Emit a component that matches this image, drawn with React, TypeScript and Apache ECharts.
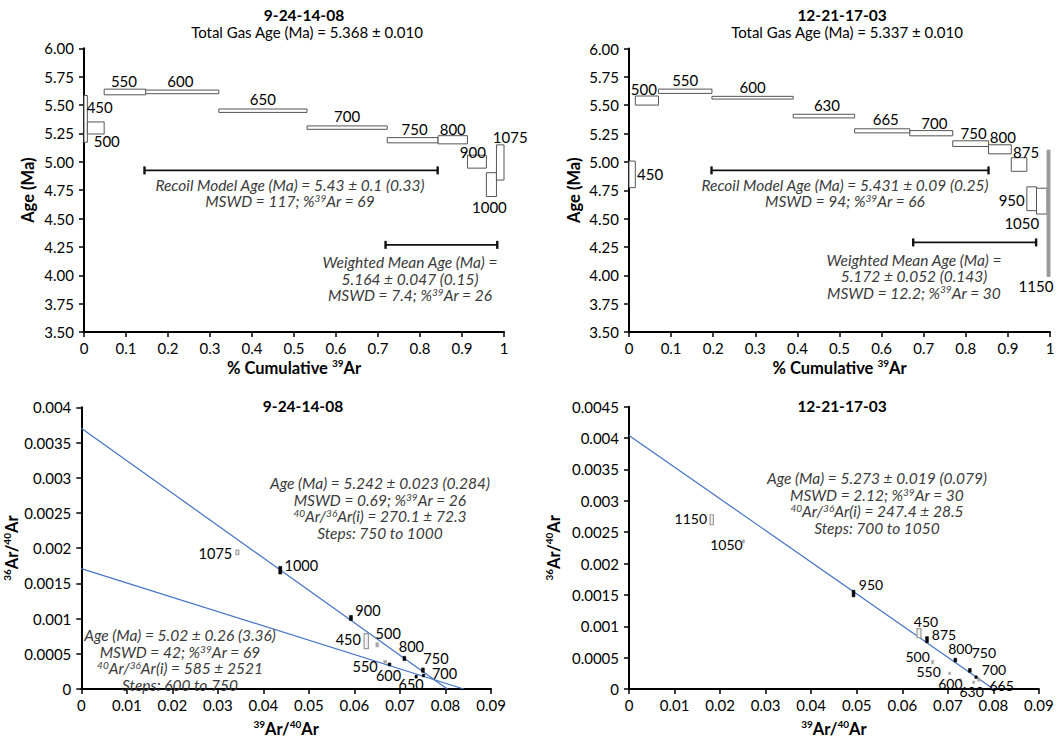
import { useEffect, useRef } from 'react';
import * as echarts from 'echarts';

const FONT = 'Lato, "Open Sans", sans-serif';

// ---------- 9-24-14-08 : age spectrum ----------
const s1Steps = ['450', '500', '550', '600', '650', '700', '750', '800', '900', '1000', '1075'];
const s1CumAr39 = [0, 0.008, 0.048, 0.147, 0.321, 0.531, 0.722, 0.843, 0.913, 0.958, 0.982, 1.0];
const s1Age = [5.378, 5.298, 5.615, 5.616, 5.45, 5.301, 5.19, 5.194, 5.001, 4.799, 4.994];
const s1Err = [0.206, 0.053, 0.025, 0.016, 0.015, 0.015, 0.023, 0.036, 0.057, 0.105, 0.155];
const s1RecoilBar = [0.144, 0.842, 4.924];
const s1WeightedBar = [0.718, 0.984, 4.268];

// ---------- 12-21-17-03 : age spectrum ----------
const s2Steps = ['450', '500', '550', '600', '630', '665', '700', '750', '800', '875', '950', '1050', '1150'];
const s2CumAr39 = [0, 0.015, 0.07, 0.197, 0.39, 0.536, 0.667, 0.769, 0.854, 0.908, 0.945, 0.968, 0.993, 1.0];
const s2Age = [4.89, 5.541, 5.623, 5.566, 5.404, 5.274, 5.253, 5.161, 5.111, 4.977, 4.675, 4.654, 4.547];
const s2Err = [0.117, 0.04, 0.019, 0.012, 0.016, 0.018, 0.023, 0.025, 0.04, 0.06, 0.105, 0.114, 0.557];
const s2Solid = ['1150'];
const s2RecoilBar = [0.196, 0.854, 4.925];
const s2WeightedBar = [0.675, 0.967, 4.29];

// ---------- 9-24-14-08 : inverse isochron ----------
const i1Steps = ['450', '500', '550', '600', '650', '700', '750', '800', '900', '1000', '1075'];
const i1Ar39Ar40 = [0.0626, 0.065, 0.06675, 0.0677, 0.07356, 0.07517, 0.07505, 0.07097, 0.05923, 0.04371, 0.03429];
const i1Ar36Ar40 = [0.00068, 0.000627, 0.000387, 0.000349, 0.000175, 0.000193, 0.000268, 0.000433, 0.001008, 0.001687, 0.001939];
const i1XErr = [0.00047, 0.0003, 0.0003, 0.0003, 0.00025, 0.00025, 0.0003, 0.0003, 0.00033, 0.00033, 0.0003];
const i1YErr = [0.000106, 0.00003, 0.00002, 0.00002, 0.00002, 0.00002, 0.00003, 0.00003, 0.000035, 0.000054, 0.000033];
const i1Fitted = ['600', '650', '700', '750', '800', '900', '1000'];
const i1Hollow = ['450', '1075'];
const i1TrappedA = 270.1; // 40Ar/36Ar(i), steps 750 to 1000
const i1Ar39InterceptA = 0.0804;
const i1TrappedB = 585; // 40Ar/36Ar(i), steps 600 to 750
const i1Ar39InterceptB = 0.084;

// ---------- 12-21-17-03 : inverse isochron ----------
const i2Steps = ['450', '500', '550', '600', '630', '665', '700', '750', '800', '875', '950', '1050', '1150'];
const i2Ar39Ar40 = [0.06367, 0.06667, 0.0704, 0.07275, 0.07567, 0.07677, 0.0762, 0.07484, 0.07165, 0.06543, 0.0493, 0.02513, 0.01817];
const i2Ar36Ar40 = [0.000889, 0.000429, 0.00025, 0.000142, 0.000107, 0.000154, 0.000189, 0.000297, 0.000461, 0.000786, 0.001522, 0.002353, 0.002698];
const i2XErr = [0.00044, 0.0002, 0.00015, 0.00015, 0.00015, 0.00015, 0.00025, 0.0003, 0.0003, 0.0003, 0.0003, 0.00015, 0.00036];
const i2YErr = [0.000072, 0.00003, 0.00002, 0.00002, 0.00002, 0.00003, 0.00002, 0.00003, 0.00003, 0.000048, 0.000053, 0.000025, 0.00008];
const i2Fitted = ['700', '750', '800', '875', '950'];
const i2Hollow = ['450', '1150'];
const i2Trapped = 247.4;
const i2Ar39Intercept = 0.08;

// ---------- text blocks ('^..^' marks a superscript) ----------
const title1 = '9-24-14-08';
const title2 = '12-21-17-03';
const total1 = 'Total Gas Age (Ma) = 5.368 ± 0.010';
const total2 = 'Total Gas Age (Ma) = 5.337 ± 0.010';
const recoil1 = ['Recoil Model Age (Ma) = 5.43 ± 0.1 (0.33)', 'MSWD = 117; %^39^Ar = 69'];
const weighted1 = ['Weighted Mean Age (Ma) =', '5.164 ± 0.047 (0.15)', 'MSWD = 7.4; %^39^Ar = 26'];
const recoil2 = ['Recoil Model Age (Ma) = 5.431 ± 0.09 (0.25)', 'MSWD = 94; %^39^Ar = 66'];
const weighted2 = ['Weighted Mean Age (Ma) =', '5.172 ± 0.052 (0.143)', 'MSWD = 12.2; %^39^Ar = 30'];
const iso1A = ['Age (Ma) = 5.242 ± 0.023 (0.284)', 'MSWD = 0.69; %^39^Ar = 26', '^40^Ar/^36^Ar(i) = 270.1 ± 72.3', 'Steps: 750 to 1000'];
const iso1B = ['Age (Ma) = 5.02 ± 0.26 (3.36)', 'MSWD = 42; %^39^Ar = 69', '^40^Ar/^36^Ar(i) = 585 ± 2521', 'Steps: 600 to 750'];
const iso2A = ['Age (Ma) = 5.273 ± 0.019 (0.079)', 'MSWD = 2.12; %^39^Ar = 30', '^40^Ar/^36^Ar(i) = 247.4 ± 28.5', 'Steps: 700 to 1050'];

// ---------- label placement (pixel offsets from each mark's centre) ----------
const s1LabelOffset = [[14, -12], [11, 13], [-1, -11], [-2, -11], [0, -12], [0, -12], [2, -11], [0, -11], [-4, -10], [-2, 22], [10, -25]];
const s2LabelOffset = [[18, 0], [-3, -11.5], [0, -11.5], [0, -11], [3, -11.5], [3.5, -12], [3, -10.7], [3, -11], [3, -12.5], [7, -13], [-20, 1], [-20, 21.5], [-12.5, 72.7]];
const i1LabelOffset = [[-18, -1.5], [11, -11], [-20, 5], [-1, 11], [-5, 7.5], [21, -2], [13, -11.5], [7, -12], [17, -8], [21, -4.5], [-22, 1]];
const i2LabelOffset = [[7, -11.5], [-15, -6], [-21, -2], [-10, 3.5], [-2, 9.5], [23, 6], [18, -7.5], [14, -17.5], [5, -11.5], [17, -5], [17.5, -9], [-17, 3], [-21, -1]];

function richText(lines: string[], base: string, sup: string) {
  return lines
    .map((l) =>
      l
        .split('^')
        .map((part, k) => (part ? `{${k % 2 ? sup : base}|${part}}` : ''))
        .join('')
    )
    .join('\n');
}

const gRich: any = {
  i: { fontFamily: FONT, fontSize: 15.5, fontStyle: 'italic', fill: '#3a3a3a', lineHeight: 16.5 },
  is: { fontFamily: FONT, fontSize: 10, fontStyle: 'italic', fill: '#3a3a3a', lineHeight: 10, verticalAlign: 'top' },
  r: { fontFamily: FONT, fontSize: 15, fill: '#000', lineHeight: 17 },
  b: { fontFamily: FONT, fontSize: 15.5, fontWeight: 'bold', fill: '#000', lineHeight: 17 },
};

function textEl(x: number, y: number, lines: string[], base: string, sup = 'is') {
  return {
    type: 'text',
    x,
    y,
    z: 100,
    silent: true,
    style: {
      text: richText(lines, base, sup),
      rich: gRich,
      align: 'center',
      verticalAlign: 'middle',
      textAlign: 'center',
      textVerticalAlign: 'middle',
    },
  };
}

const nameRich: any = {
  b: { fontFamily: FONT, fontSize: 16.5, fontWeight: 'bold', color: '#000', lineHeight: 19 },
  s: { fontFamily: FONT, fontSize: 10, fontWeight: 'bold', color: '#000', lineHeight: 10, verticalAlign: 'top' },
};

function valueAxis(grid: number, min: number, max: number, interval: number, fmt: (v: number) => string, name: string, nameGap: number, vertical: boolean) {
  return {
    type: 'value',
    gridIndex: grid,
    min,
    max,
    interval,
    name,
    nameLocation: 'middle',
    nameGap,
    nameRotate: vertical ? 90 : 0,
    nameTextStyle: { rich: nameRich },
    axisLine: { show: true, onZero: false, lineStyle: { color: '#000', width: 2 } },
    axisTick: { show: true, inside: false, length: 5, lineStyle: { color: '#000', width: 1.5 } },
    axisLabel: { color: '#000', fontFamily: FONT, fontSize: 15, margin: vertical ? 10 : 8, formatter: fmt },
    splitLine: { show: false },
  };
}

function stepSeries(idx: number, steps: string[], cum: number[], age: number[], err: number[], offsets: number[][], solid: string[] = []) {
  return {
    type: 'custom',
    xAxisIndex: idx,
    yAxisIndex: idx,
    z: 3,
    data: steps.map((_, i) => [cum[i], cum[i + 1], age[i], err[i]]),
    renderItem: (params: any, api: any) => {
      const i = params.dataIndex;
      const p0 = api.coord([api.value(0), api.value(2) + api.value(3)]);
      const p1 = api.coord([api.value(1), api.value(2) - api.value(3)]);
      const w = p1[0] - p0[0];
      const h = p1[1] - p0[1];
      const isSolid = solid.includes(steps[i]);
      const off = offsets[i];
      return {
        type: 'group',
        children: [
          {
            type: 'rect',
            shape: { x: p0[0], y: p0[1], width: w, height: h },
            style: isSolid
              ? { fill: '#9a9a9a', stroke: '#9a9a9a', lineWidth: 1 }
              : { fill: '#fff', stroke: '#555', lineWidth: 1 },
          },
          {
            type: 'text',
            x: p0[0] + w / 2 + off[0],
            y: p0[1] + h / 2 + off[1],
            style: {
              text: steps[i],
              textAlign: 'center',
              textVerticalAlign: 'middle',
              fill: '#000',
              font: `15px ${FONT}`,
            },
          },
        ],
      };
    },
  };
}

function barSeries(idx: number, bars: number[][]) {
  return {
    type: 'custom',
    xAxisIndex: idx,
    yAxisIndex: idx,
    z: 3,
    data: bars,
    renderItem: (_params: any, api: any) => {
      const a = api.coord([api.value(0), api.value(2)]);
      const b = api.coord([api.value(1), api.value(2)]);
      const st = { stroke: '#111', lineWidth: 1.6 };
      return {
        type: 'group',
        children: [
          { type: 'line', shape: { x1: a[0], y1: a[1], x2: b[0], y2: b[1] }, style: st },
          { type: 'line', shape: { x1: a[0], y1: a[1] - 4, x2: a[0], y2: a[1] + 4 }, style: { stroke: '#111', lineWidth: 2.4 } },
          { type: 'line', shape: { x1: b[0], y1: b[1] - 4, x2: b[0], y2: b[1] + 4 }, style: { stroke: '#111', lineWidth: 2.4 } },
        ],
      };
    },
  };
}

function isoSeries(idx: number, steps: string[], xs: number[], ys: number[], xe: number[], ye: number[], fitted: string[], hollow: string[], offsets: number[][], fontSize: number) {
  return {
    type: 'custom',
    xAxisIndex: idx,
    yAxisIndex: idx,
    z: 4,
    data: steps.map((_, i) => [xs[i], ys[i], xe[i], ye[i]]),
    renderItem: (params: any, api: any) => {
      const i = params.dataIndex;
      const p0 = api.coord([api.value(0) - api.value(2), api.value(1) + api.value(3)]);
      const p1 = api.coord([api.value(0) + api.value(2), api.value(1) - api.value(3)]);
      const cx = (p0[0] + p1[0]) / 2;
      const cy = (p0[1] + p1[1]) / 2;
      const w = Math.max(p1[0] - p0[0], 2);
      const h = Math.max(p1[1] - p0[1], 2);
      const step = steps[i];
      const style = fitted.includes(step)
        ? { fill: '#000', stroke: '#000', lineWidth: 0.6 }
        : hollow.includes(step)
        ? { fill: '#f4f4f4', stroke: '#9a9a9a', lineWidth: 1.2 }
        : { fill: '#a8a8a8', stroke: '#a8a8a8', lineWidth: 0.6 };
      const off = offsets[i];
      return {
        type: 'group',
        children: [
          { type: 'rect', shape: { x: cx - w / 2, y: cy - h / 2, width: w, height: h }, style },
          {
            type: 'text',
            x: cx + off[0],
            y: cy + off[1],
            style: {
              text: step,
              textAlign: 'center',
              textVerticalAlign: 'middle',
              fill: '#000',
              font: `${fontSize}px ${FONT}`,
            },
          },
        ],
      };
    },
  };
}

function isochronLine(idx: number, trapped: number, ar39Intercept: number) {
  return {
    type: 'line',
    xAxisIndex: idx,
    yAxisIndex: idx,
    z: 2,
    silent: true,
    symbol: 'none',
    lineStyle: { color: '#4472C4', width: 1.2 },
    data: [
      [0, 1 / trapped],
      [ar39Intercept, 0],
    ],
  };
}

const fmt2 = (v: number) => v.toFixed(2);
const fmtTrim = (d: number) => (v: number) => String(+v.toFixed(d));

export default function App() {
  const ref = useRef<HTMLDivElement>(null);

  useEffect(() => {
    if (!ref.current) return;
    const chart = echarts.init(ref.current, undefined, { renderer: 'svg' });
    const cumName = '{b|% Cumulative }{s|39}{b|Ar}';
    const ageName = '{b|Age (Ma)}';
    const isoX = '{s|39}{b|Ar/}{s|40}{b|Ar}';
    const isoY = '{s|36}{b|Ar/}{s|40}{b|Ar}';

    chart.setOption({
      animation: false,
      backgroundColor: '#fff',
      grid: [
        { left: 84, top: 48.3, width: 420, height: 283.7 },
        { left: 629, top: 48.5, width: 421, height: 283.5 },
        { left: 81.3, top: 407.3, width: 409.7, height: 283.4 },
        { left: 629, top: 406.7, width: 409.9, height: 283 },
      ],
      xAxis: [
        valueAxis(0, 0, 1, 0.1, fmtTrim(1), cumName, 26, false),
        valueAxis(1, 0, 1, 0.1, fmtTrim(1), cumName, 26, false),
        valueAxis(2, 0, 0.09, 0.01, fmtTrim(2), isoX, 30, false),
        valueAxis(3, 0, 0.09, 0.01, fmtTrim(2), isoX, 30, false),
      ],
      yAxis: [
        valueAxis(0, 3.5, 6, 0.25, fmt2, ageName, 47, true),
        valueAxis(1, 3.5, 6, 0.25, fmt2, ageName, 46, true),
        valueAxis(2, 0, 0.004, 0.0005, fmtTrim(4), isoY, 58, true),
        valueAxis(3, 0, 0.0045, 0.0005, fmtTrim(4), isoY, 66, true),
      ],
      graphic: [
        textEl(304, 15, [title1], 'b'),
        textEl(307, 32, [total1], 'r'),
        textEl(290, 193, recoil1, 'i'),
        textEl(410, 278.5, weighted1, 'i'),
        textEl(842, 15, [title2], 'b'),
        textEl(847, 32, [total2], 'r'),
        textEl(845, 193, recoil2, 'i'),
        textEl(914, 276, weighted2, 'i'),
        textEl(303, 406, [title1], 'b'),
        textEl(380, 508, iso1A, 'i'),
        textEl(180, 660, iso1B, 'i'),
        textEl(842, 406, [title2], 'b'),
        textEl(877, 503, iso2A, 'i'),
      ],
      series: [
        stepSeries(0, s1Steps, s1CumAr39, s1Age, s1Err, s1LabelOffset),
        barSeries(0, [s1RecoilBar, s1WeightedBar]),
        stepSeries(1, s2Steps, s2CumAr39, s2Age, s2Err, s2LabelOffset, s2Solid),
        barSeries(1, [s2RecoilBar, s2WeightedBar]),
        isochronLine(2, i1TrappedA, i1Ar39InterceptA),
        isochronLine(2, i1TrappedB, i1Ar39InterceptB),
        isoSeries(2, i1Steps, i1Ar39Ar40, i1Ar36Ar40, i1XErr, i1YErr, i1Fitted, i1Hollow, i1LabelOffset, 14.5),
        isochronLine(3, i2Trapped, i2Ar39Intercept),
        isoSeries(3, i2Steps, i2Ar39Ar40, i2Ar36Ar40, i2XErr, i2YErr, i2Fitted, i2Hollow, i2LabelOffset, 14),
      ],
    });
    return () => chart.dispose();
  }, []);

  return (
    <div
      ref={ref}
      style={{ position: 'absolute', left: 0, top: 0, width: 1059, height: 738, background: '#fff' }}
    />
  );
}
